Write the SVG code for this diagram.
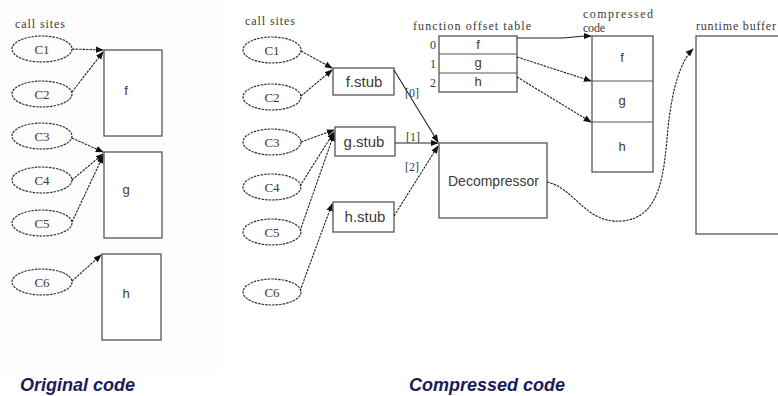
<svg xmlns="http://www.w3.org/2000/svg" width="778" height="396" viewBox="0 0 778 396">
  <defs>
    <marker id="ah" viewBox="0 0 10 10" refX="9" refY="5" markerWidth="8" markerHeight="8" markerUnits="userSpaceOnUse" orient="auto">
      <path d="M0,1 L10,5 L0,9 Z" fill="#111"/>
    </marker>
    <style>
      .site { fill: none; stroke: #333; stroke-width: 1.2; stroke-dasharray: 2.5 1; }
      .box { fill: #fff; stroke: #555; stroke-width: 1.3; }
      .edge { fill: none; stroke: #222; stroke-width: 1.1; stroke-dasharray: 2.5 1; marker-end: url(#ah); }
      .solid { fill: none; stroke: #222; stroke-width: 1.1; marker-end: url(#ah); }
      .serif { font-family: "Liberation Serif", "DejaVu Serif", serif; fill: #3a3a3a; }
      .sans { font-family: "Liberation Sans", Arial, sans-serif; fill: #3a3a3a; }
      .cap { font-family: "Liberation Sans", Arial, sans-serif; font-weight: bold; font-style: italic; font-size: 18px; fill: #1c1c5a; }
    </style>
  </defs>

  <rect x="0" y="0" width="778" height="396" fill="#fff"/>
  <rect x="0" y="0" width="219" height="372" fill="#fdfdfd"/>

  <!-- ===== Original code ===== -->
  <text class="serif" x="15" y="28" font-size="12" textLength="50">call sites</text>

  <g id="o-c1"><ellipse class="site" cx="42" cy="49" rx="30" ry="13"/><text class="serif" x="42" y="54" font-size="13" text-anchor="middle">C1</text></g>
  <g id="o-c2"><ellipse class="site" cx="42" cy="94" rx="30" ry="13"/><text class="serif" x="42" y="99" font-size="13" text-anchor="middle">C2</text></g>
  <g id="o-c3"><ellipse class="site" cx="42" cy="136" rx="30" ry="13"/><text class="serif" x="42" y="141" font-size="13" text-anchor="middle">C3</text></g>
  <g id="o-c4"><ellipse class="site" cx="42" cy="180" rx="30" ry="13"/><text class="serif" x="42" y="185" font-size="13" text-anchor="middle">C4</text></g>
  <g id="o-c5"><ellipse class="site" cx="42" cy="223" rx="30" ry="13"/><text class="serif" x="42" y="228" font-size="13" text-anchor="middle">C5</text></g>
  <g id="o-c6"><ellipse class="site" cx="42" cy="282" rx="30" ry="13"/><text class="serif" x="42" y="287" font-size="13" text-anchor="middle">C6</text></g>

  <g id="o-f"><rect class="box" x="104" y="50" width="58" height="86"/><text class="sans" x="126" y="95" font-size="13" text-anchor="middle">f</text></g>
  <g id="o-g"><rect class="box" x="104" y="152" width="58" height="86"/><text class="sans" x="126" y="194" font-size="13" text-anchor="middle">g</text></g>
  <g id="o-h"><rect class="box" x="102" y="254" width="59" height="86"/><text class="sans" x="126" y="298" font-size="13" text-anchor="middle">h</text></g>

  <g id="o-edges">
    <path class="edge" d="M72,49 L103,50"/>
    <path class="edge" d="M72,92 L103,52"/>
    <path class="edge" d="M72,138 L103,152"/>
    <path class="edge" d="M72,180 L103,154"/>
    <path class="edge" d="M72,222 L103,156"/>
    <path class="edge" d="M72,281 L101,255"/>
  </g>

  <!-- ===== Compressed code ===== -->
  <text class="serif" x="245" y="25" font-size="12" textLength="50">call sites</text>

  <g id="c-c1"><ellipse class="site" cx="272" cy="50" rx="29" ry="13"/><text class="serif" x="272" y="55" font-size="13" text-anchor="middle">C1</text></g>
  <g id="c-c2"><ellipse class="site" cx="272" cy="97" rx="29" ry="13"/><text class="serif" x="272" y="102" font-size="13" text-anchor="middle">C2</text></g>
  <g id="c-c3"><ellipse class="site" cx="272" cy="142" rx="29" ry="13"/><text class="serif" x="272" y="147" font-size="13" text-anchor="middle">C3</text></g>
  <g id="c-c4"><ellipse class="site" cx="272" cy="187" rx="29" ry="13"/><text class="serif" x="272" y="192" font-size="13" text-anchor="middle">C4</text></g>
  <g id="c-c5"><ellipse class="site" cx="272" cy="232" rx="29" ry="13"/><text class="serif" x="272" y="237" font-size="13" text-anchor="middle">C5</text></g>
  <g id="c-c6"><ellipse class="site" cx="272" cy="292" rx="29" ry="13"/><text class="serif" x="272" y="297" font-size="13" text-anchor="middle">C6</text></g>

  <g id="f-stub"><rect class="box" x="333" y="68" width="61" height="27"/><text class="sans" x="364" y="87" font-size="15" text-anchor="middle">f.stub</text></g>
  <g id="g-stub"><rect class="box" x="335" y="127" width="60" height="29"/><text class="sans" x="364" y="147" font-size="15" text-anchor="middle">g.stub</text></g>
  <g id="h-stub"><rect class="box" x="333" y="202" width="61" height="30"/><text class="sans" x="365" y="222" font-size="15" text-anchor="middle">h.stub</text></g>

  <g id="decompressor"><rect class="box" x="439" y="143" width="108" height="75"/><text class="sans" x="448" y="186" font-size="14">Decompressor</text></g>

  <g id="offset-table">
    <text class="serif" x="413" y="30" font-size="12" textLength="118">function offset table</text>
    <rect class="box" x="439" y="36" width="78" height="56"/>
    <line x1="439" y1="54" x2="517" y2="54" stroke="#555" stroke-width="1.2"/>
    <line x1="439" y1="73" x2="517" y2="73" stroke="#555" stroke-width="1.2"/>
    <text class="serif" x="433" y="49" font-size="12" text-anchor="middle">0</text>
    <text class="serif" x="433" y="68" font-size="12" text-anchor="middle">1</text>
    <text class="serif" x="433" y="87" font-size="12" text-anchor="middle">2</text>
    <text class="sans" x="478" y="49" font-size="13" text-anchor="middle">f</text>
    <text class="sans" x="478" y="67" font-size="13" text-anchor="middle">g</text>
    <text class="sans" x="478" y="86" font-size="13" text-anchor="middle">h</text>
  </g>

  <g id="compressed-code">
    <text class="serif" x="583" y="18" font-size="12" textLength="70">compressed</text>
    <text class="serif" x="583" y="32" font-size="12" textLength="22">code</text>
    <rect class="box" x="592" y="36" width="61" height="136"/>
    <line x1="592" y1="81" x2="653" y2="81" stroke="#555" stroke-width="1.2"/>
    <line x1="592" y1="122" x2="653" y2="122" stroke="#555" stroke-width="1.2"/>
    <text class="sans" x="622" y="62" font-size="13" text-anchor="middle">f</text>
    <text class="sans" x="622" y="105" font-size="13" text-anchor="middle">g</text>
    <text class="sans" x="622" y="151" font-size="13" text-anchor="middle">h</text>
  </g>

  <g id="runtime-buffer">
    <text class="serif" x="696" y="30" font-size="12" textLength="80">runtime buffer</text>
    <rect class="box" x="696" y="36" width="90" height="198"/>
  </g>

  <g id="c-edges">
    <path class="edge" d="M301,51 L332,68"/>
    <path class="edge" d="M301,96 L332,70"/>
    <path class="edge" d="M301,142 L334,130"/>
    <path class="edge" d="M300,186 L334,132"/>
    <path class="edge" d="M300,231 L334,134"/>
    <path class="edge" d="M300,291 L332,204"/>

    <path class="solid" d="M394,70 L438,142"/>
    <path class="solid" d="M395,143 L438,143"/>
    <path class="edge" d="M394,216 L438,146"/>
    <text class="serif" x="405" y="97" font-size="12">[0]</text>
    <text class="serif" x="406" y="141" font-size="12">[1]</text>
    <text class="serif" x="405" y="171" font-size="12">[2]</text>

    <path class="solid" d="M517,38 L562,38 C570,38 575,36 591,36"/>
    <path class="edge" d="M517,57 L591,81"/>
    <path class="edge" d="M517,77 L591,122"/>

    <path class="edge" d="M547,182 C575,188 585,224 622,221 C662,218 664,170 668,128 C672,90 680,62 693,49"/>
  </g>

  <text class="cap" x="20" y="391">Original code</text>
  <text class="cap" x="409" y="391">Compressed code</text>
</svg>
